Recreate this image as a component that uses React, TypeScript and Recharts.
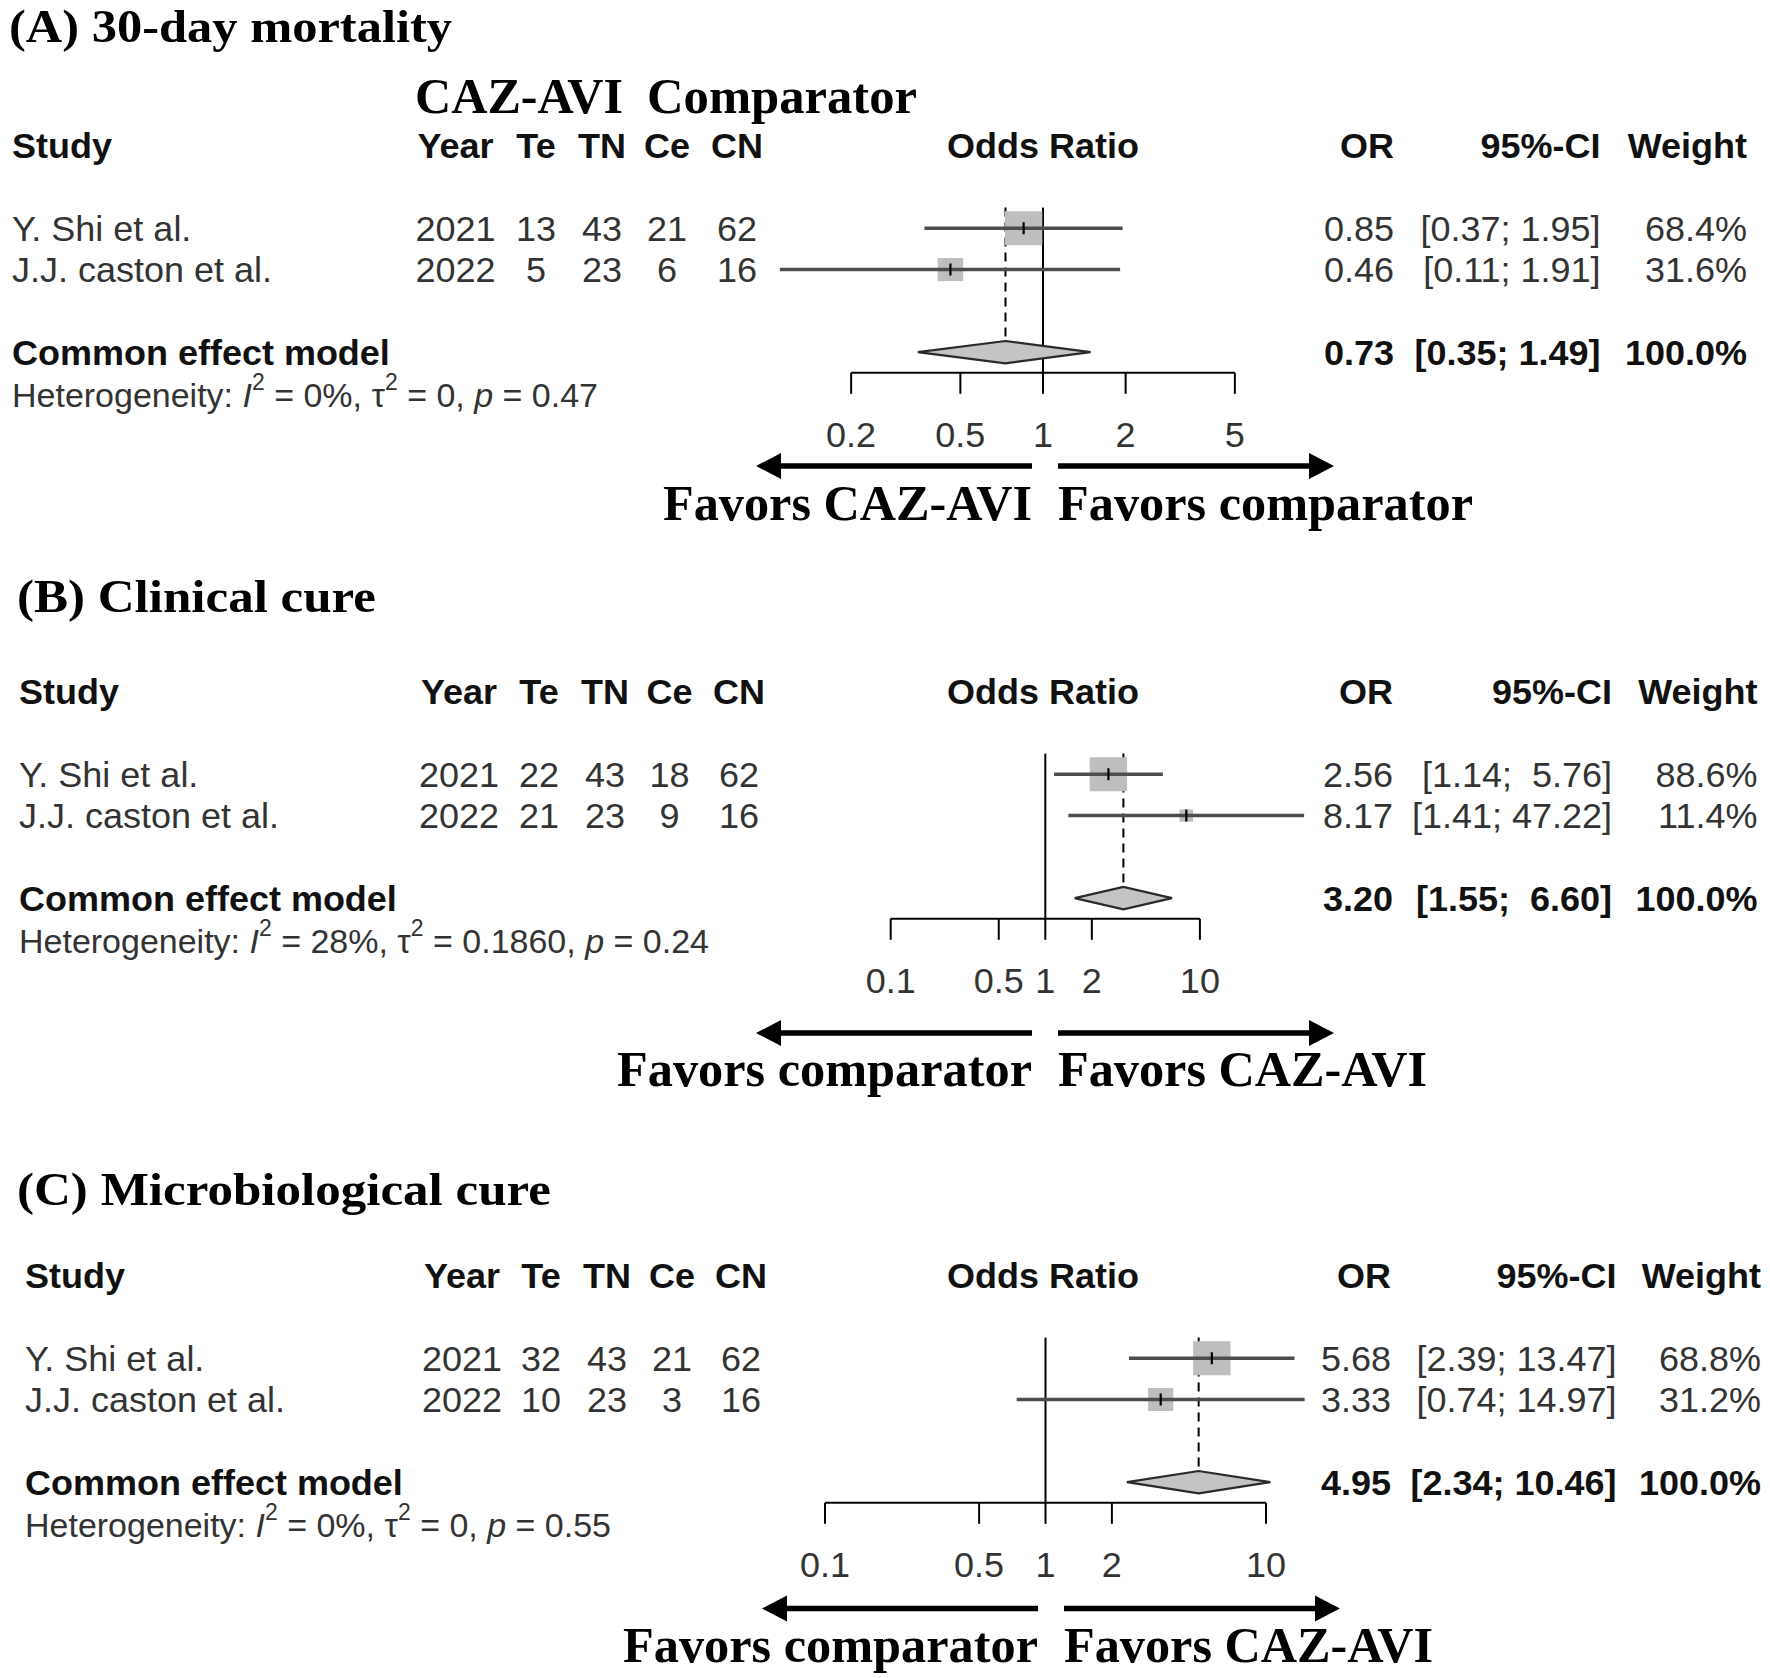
import React from "react";
import { ReferenceLine, Scatter, ScatterChart, XAxis, YAxis } from "recharts";

const STUDIES = ["Y. Shi et al.", "J.J. caston et al."];
const YEARS = [2021, 2022];

// (A) 30-day mortality
const A_TE = [13, 5];
const A_TN = [43, 23];
const A_CE = [21, 6];
const A_CN = [62, 16];
const A_OR = [0.85, 0.46];
const A_LOW = [0.37, 0.11];
const A_HIGH = [1.95, 1.91];
const A_WEIGHT = [68.4, 31.6];
const A_COMMON = [0.73, 0.35, 1.49];
const A_HET = ["0%", "0", "0.47"];
const A_TICKS = [0.2, 0.5, 1, 2, 5];

// (B) Clinical cure
const B_TE = [22, 21];
const B_TN = [43, 23];
const B_CE = [18, 9];
const B_CN = [62, 16];
const B_OR = [2.56, 8.17];
const B_LOW = [1.14, 1.41];
const B_HIGH = [5.76, 47.22];
const B_WEIGHT = [88.6, 11.4];
const B_COMMON = [3.2, 1.55, 6.6];
const B_HET = ["28%", "0.1860", "0.24"];
const B_TICKS = [0.1, 0.5, 1, 2, 10];

// (C) Microbiological cure
const C_TE = [32, 10];
const C_TN = [43, 23];
const C_CE = [21, 3];
const C_CN = [62, 16];
const C_OR = [5.68, 3.33];
const C_LOW = [2.39, 0.74];
const C_HIGH = [13.47, 14.97];
const C_WEIGHT = [68.8, 31.2];
const C_COMMON = [4.95, 2.34, 10.46];
const C_HET = ["0%", "0", "0.55"];
const C_TICKS = [0.1, 0.5, 1, 2, 10];

const PAGE_W = 1770;
const PAGE_H = 1678;
const ROW = 41.3;
const DIAMOND_H = 0.27;
const SQUARE_MAX = 34;
const AXIS_H = 92;
const SANS = "'Liberation Sans', Arial, sans-serif";
const SERIF = "'Liberation Serif', 'Times New Roman', serif";
const FS = 36;
const INK = "#333";
const BOLD_INK = "#111";
const FAVORS_LEN: Record<string, number> = { "Favors CAZ-AVI": 369, "Favors comparator": 415 };

type Cols = {
  study: number; year: number; te: number; tn: number; ce: number; cn: number;
  odds: number; or: number; ci: number; weight: number;
};

type Panel = {
  key: string;
  title: string;
  titleX: number;
  titleY: number;
  titleLen: number;
  row0: number;
  x1: number;
  decade: number;
  domain: [number, number];
  ticks: number[];
  cols: Cols;
  te: number[]; tn: number[]; ce: number[]; cn: number[];
  or: number[]; low: number[]; high: number[]; weight: number[];
  common: number[];
  het: string[];
  arrowX: number;
  arrowY: number;
  favorsY: number;
  favorsLeft: string;
  favorsRight: string;
};

const PANELS: Panel[] = [
  {
    key: "A", title: "(A) 30-day mortality", titleX: 9, titleY: 42, titleLen: 443,
    row0: 146, x1: 1043, decade: 274.5, domain: [0.1, 10], ticks: A_TICKS,
    cols: { study: 12, year: 455.5, te: 536, tn: 602, ce: 667, cn: 737, odds: 1043, or: 1394, ci: 1600.6, weight: 1747 },
    te: A_TE, tn: A_TN, ce: A_CE, cn: A_CN, or: A_OR, low: A_LOW, high: A_HIGH, weight: A_WEIGHT,
    common: A_COMMON, het: A_HET,
    arrowX: 1045, arrowY: 466, favorsY: 520, favorsLeft: "Favors CAZ-AVI", favorsRight: "Favors comparator",
  },
  {
    key: "B", title: "(B) Clinical cure", titleX: 17, titleY: 612, titleLen: 359,
    row0: 691.5, x1: 1045.3, decade: 154.6, domain: [0.05, 100], ticks: B_TICKS,
    cols: { study: 19, year: 459, te: 539, tn: 605, ce: 669.4, cn: 739, odds: 1043, or: 1393, ci: 1612, weight: 1757.5 },
    te: B_TE, tn: B_TN, ce: B_CE, cn: B_CN, or: B_OR, low: B_LOW, high: B_HIGH, weight: B_WEIGHT,
    common: B_COMMON, het: B_HET,
    arrowX: 1045, arrowY: 1033, favorsY: 1086, favorsLeft: "Favors comparator", favorsRight: "Favors CAZ-AVI",
  },
  {
    key: "C", title: "(C) Microbiological cure", titleX: 17, titleY: 1205, titleLen: 534,
    row0: 1275.8, x1: 1045.5, decade: 220.5, domain: [0.05, 20], ticks: C_TICKS,
    cols: { study: 25, year: 462, te: 541, tn: 607, ce: 672, cn: 741, odds: 1043, or: 1391, ci: 1616.5, weight: 1761 },
    te: C_TE, tn: C_TN, ce: C_CE, cn: C_CN, or: C_OR, low: C_LOW, high: C_HIGH, weight: C_WEIGHT,
    common: C_COMMON, het: C_HET,
    arrowX: 1051, arrowY: 1608.5, favorsY: 1662, favorsLeft: "Favors comparator", favorsRight: "Favors CAZ-AVI",
  },
];

function ciLabels(p: Panel) {
  const lows = [...p.low, p.common[1]].map((v) => v.toFixed(2));
  const highs = [...p.high, p.common[2]].map((v) => v.toFixed(2));
  const lw = Math.max(...lows.map((s) => s.length));
  const hw = Math.max(...highs.map((s) => s.length));
  return lows.map((l, i) => `[${l.padStart(lw)}; ${highs[i].padStart(hw)}]`);
}

function T({ x, y, anchor = "start", bold = false, size = FS, children }: any) {
  return (
    <text
      x={x}
      y={y}
      textAnchor={anchor}
      dominantBaseline="central"
      fontFamily={SANS}
      fontSize={size}
      fontWeight={bold ? "bold" : "normal"}
      fill={bold ? BOLD_INK : INK}
      xmlSpace="preserve"
      style={{ whiteSpace: "pre" }}
    >
      {children}
    </text>
  );
}

function Het({ x, y, het }: { x: number; y: number; het: string[] }) {
  return (
    <text x={x} y={y} dominantBaseline="central" fontFamily={SANS} fontSize={34} fill={INK} xmlSpace="preserve" style={{ whiteSpace: "pre" }}>
      {"Heterogeneity: "}
      <tspan fontStyle="italic">I</tspan>
      <tspan dy={-13} fontSize={23}>2</tspan>
      <tspan dy={13}>{` = ${het[0]}, \u03c4`}</tspan>
      <tspan dy={-13} fontSize={23}>2</tspan>
      <tspan dy={13}>{` = ${het[1]}, `}</tspan>
      <tspan fontStyle="italic">p</tspan>
      <tspan>{` = ${het[2]}`}</tspan>
    </text>
  );
}

function LeftRow({ y, payload, p }: any) {
  const v = payload.value;
  const c: Cols = p.cols;
  if (v === 0) {
    return (
      <g>
        <T x={c.study} y={y} bold>Study</T>
        <T x={c.year} y={y} anchor="middle" bold>Year</T>
        <T x={c.te} y={y} anchor="middle" bold>Te</T>
        <T x={c.tn} y={y} anchor="middle" bold>TN</T>
        <T x={c.ce} y={y} anchor="middle" bold>Ce</T>
        <T x={c.cn} y={y} anchor="middle" bold>CN</T>
      </g>
    );
  }
  if (v === 5) {
    return (
      <g>
        <T x={c.study} y={y} bold>Common effect model</T>
        <Het x={c.study} y={y + 43} het={p.het} />
      </g>
    );
  }
  const i = v - 2;
  return (
    <g>
      <T x={c.study} y={y}>{STUDIES[i]}</T>
      <T x={c.year} y={y} anchor="middle">{YEARS[i]}</T>
      <T x={c.te} y={y} anchor="middle">{p.te[i]}</T>
      <T x={c.tn} y={y} anchor="middle">{p.tn[i]}</T>
      <T x={c.ce} y={y} anchor="middle">{p.ce[i]}</T>
      <T x={c.cn} y={y} anchor="middle">{p.cn[i]}</T>
    </g>
  );
}

function RightRow({ y, payload, p }: any) {
  const v = payload.value;
  const c: Cols = p.cols;
  const ci = ciLabels(p);
  if (v === 0) {
    return (
      <g>
        <T x={c.odds} y={y} anchor="middle" bold>Odds Ratio</T>
        <T x={c.or} y={y} anchor="end" bold>OR</T>
        <T x={c.ci} y={y} anchor="end" bold>95%-CI</T>
        <T x={c.weight} y={y} anchor="end" bold>Weight</T>
      </g>
    );
  }
  if (v === 5) {
    return (
      <g>
        <T x={c.or} y={y} anchor="end" bold>{p.common[0].toFixed(2)}</T>
        <T x={c.ci} y={y} anchor="end" bold>{ci[2]}</T>
        <T x={c.weight} y={y} anchor="end" bold>100.0%</T>
      </g>
    );
  }
  const i = v - 2;
  return (
    <g>
      <T x={c.or} y={y} anchor="end">{p.or[i].toFixed(2)}</T>
      <T x={c.ci} y={y} anchor="end">{ci[i]}</T>
      <T x={c.weight} y={y} anchor="end">{`${p.weight[i].toFixed(1)}%`}</T>
    </g>
  );
}

function XTick({ x, y, payload }: any) {
  return (
    <text x={x} y={y + 41} textAnchor="middle" dominantBaseline="central" fontFamily={SANS} fontSize={FS} fill={INK}>
      {String(payload.value)}
    </text>
  );
}

function pathOf(points: any[]) {
  return points.map((pt: any, i: number) => `${i ? "L" : "M"}${pt.x},${pt.y}`).join(" ");
}

function DiamondPath({ points }: any) {
  if (!points || !points.length) return null;
  return <path d={pathOf(points) + " Z"} fill="#c4c4c4" stroke="#2a2a2a" strokeWidth={2.2} />;
}

function CiPath({ points }: any) {
  if (!points || !points.length) return null;
  return <path d={pathOf(points)} fill="none" stroke="#4d4d4d" strokeWidth={3.4} />;
}

function ForestPanel({ p }: { p: Panel }) {
  const plotLeft = p.x1 + p.decade * Math.log10(p.domain[0]);
  const plotRight = p.x1 + p.decade * Math.log10(p.domain[1]);
  const plotH = 6 * ROW;
  const top = p.row0 - 0.5 * ROW;
  const maxW = Math.max(...p.weight);
  const points = STUDIES.map((_, i) => ({ x: p.or[i], y: i + 2, w: p.weight[i] }));
  const diamond = [
    { x: p.common[1], y: 5 },
    { x: p.common[0], y: 5 - DIAMOND_H },
    { x: p.common[2], y: 5 },
    { x: p.common[0], y: 5 + DIAMOND_H },
  ];
  const firstTick = p.ticks[0];
  const lastTick = p.ticks[p.ticks.length - 1];

  return (
    <div style={{ position: "absolute", left: 0, top }}>
      <ScatterChart width={PAGE_W} height={plotH + AXIS_H} margin={{ top: 0, right: 0, bottom: 0, left: 0 }}>
        <XAxis
          type="number"
          dataKey="x"
          scale="log"
          domain={p.domain}
          allowDataOverflow
          ticks={p.ticks}
          interval={0}
          axisLine={false}
          tickLine={{ stroke: "#000", strokeWidth: 2 }}
          tickSize={21}
          tickMargin={0}
          height={AXIS_H}
          tick={(t: any) => <XTick {...t} />}
        />
        <YAxis
          yAxisId="l"
          type="number"
          dataKey="y"
          domain={[-0.5, 5.5]}
          reversed
          allowDataOverflow
          ticks={[0, 2, 3, 5]}
          interval={0}
          width={plotLeft}
          axisLine={false}
          tickLine={false}
          tick={(t: any) => <LeftRow {...t} p={p} />}
        />
        <YAxis
          yAxisId="r"
          orientation="right"
          type="number"
          dataKey="y"
          domain={[-0.5, 5.5]}
          reversed
          allowDataOverflow
          ticks={[0, 2, 3, 5]}
          interval={0}
          width={PAGE_W - plotRight}
          axisLine={false}
          tickLine={false}
          tick={(t: any) => <RightRow {...t} p={p} />}
        />
        <ReferenceLine
          yAxisId="l"
          ifOverflow="visible"
          segment={[{ x: firstTick, y: 5.5 }, { x: lastTick, y: 5.5 }]}
          stroke="#000"
          strokeWidth={2}
        />
        <ReferenceLine
          yAxisId="l"
          ifOverflow="visible"
          segment={[{ x: 1, y: 1.5 }, { x: 1, y: 5.5 }]}
          stroke="#000"
          strokeWidth={2}
        />
        <ReferenceLine
          yAxisId="l"
          ifOverflow="visible"
          segment={[{ x: p.common[0], y: 1.5 }, { x: p.common[0], y: 4.62 }]}
          stroke="#000"
          strokeWidth={2}
          strokeDasharray="9 6"
        />
        <Scatter
          yAxisId="l"
          data={points}
          isAnimationActive={false}
          shape={(s: any) => {
            const h = SQUARE_MAX * Math.sqrt(s.payload.w / maxW);
            const w = h * 1.1;
            return <rect x={s.cx - w / 2} y={s.cy - h / 2} width={w} height={h} fill="#bebebe" />;
          }}
        />
        {STUDIES.map((name, i) => (
          <Scatter
            key={name}
            yAxisId="l"
            data={[
              { x: p.low[i], y: i + 2 },
              { x: p.high[i], y: i + 2 },
            ]}
            fill="#4d4d4d"
            line={<CiPath />}
            lineType="joint"
            isAnimationActive={false}
            shape={() => <g />}
          />
        ))}
        <Scatter
          yAxisId="l"
          data={points}
          isAnimationActive={false}
          shape={(s: any) => <line x1={s.cx} x2={s.cx} y1={s.cy - 6} y2={s.cy + 6} stroke="#000" strokeWidth={2.2} />}
        />
        <Scatter
          yAxisId="l"
          data={diamond}
          fill="#c4c4c4"
          line={<DiamondPath />}
          lineType="joint"
          isAnimationActive={false}
          shape={() => <g />}
        />
      </ScatterChart>
    </div>
  );
}

function Arrow({ cx, y, dir }: { cx: number; y: number; dir: number }) {
  const s0 = cx + dir * 13;
  const s1 = cx + dir * 264;
  const tip = cx + dir * 289;
  const t = 2.8;
  const hh = 13;
  const pts = [
    [s0, y - t], [s1, y - t], [s1, y - hh], [tip, y], [s1, y + hh], [s1, y + t], [s0, y + t],
  ];
  return <polygon points={pts.map((q) => q.join(",")).join(" ")} fill="#000" />;
}

function SerifText({ x, y, len, anchor = "start", size = 50, children }: any) {
  return (
    <text
      x={x}
      y={y}
      textAnchor={anchor}
      fontFamily={SERIF}
      fontWeight="bold"
      fontSize={size}
      fill="#000"
      textLength={len}
      lengthAdjust="spacingAndGlyphs"
    >
      {children}
    </text>
  );
}

function Overlay() {
  return (
    <svg width={PAGE_W} height={PAGE_H} style={{ position: "absolute", left: 0, top: 0, pointerEvents: "none" }}>
      <SerifText x={415} y={113} len={208}>CAZ-AVI</SerifText>
      <SerifText x={647} y={113} len={270}>Comparator</SerifText>
      {PANELS.map((p) => (
        <g key={p.key}>
          <SerifText x={p.titleX} y={p.titleY} len={p.titleLen} size={47}>{p.title}</SerifText>
          <Arrow cx={p.arrowX} y={p.arrowY} dir={-1} />
          <Arrow cx={p.arrowX} y={p.arrowY} dir={1} />
          <SerifText x={p.arrowX - 13} y={p.favorsY} len={FAVORS_LEN[p.favorsLeft]} anchor="end">
            {p.favorsLeft}
          </SerifText>
          <SerifText x={p.arrowX + 13} y={p.favorsY} len={FAVORS_LEN[p.favorsRight]}>
            {p.favorsRight}
          </SerifText>
        </g>
      ))}
    </svg>
  );
}

export default function App() {
  return (
    <div style={{ position: "absolute", left: 0, top: 0, width: PAGE_W, height: PAGE_H, background: "#fff", overflow: "hidden" }}>
      {PANELS.map((p) => (
        <ForestPanel key={p.key} p={p} />
      ))}
      <Overlay />
    </div>
  );
}
